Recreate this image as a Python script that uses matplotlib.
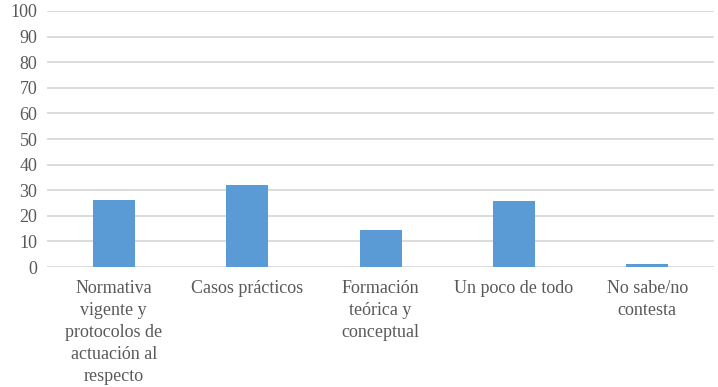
import matplotlib
matplotlib.use("Agg")
import matplotlib.pyplot as plt

categories = ["Normativa\nvigente y\nprotocolos de\nactuación al\nrespecto",
              "Casos prácticos",
              "Formación\nteórica y\nconceptual",
              "Un poco de todo",
              "No sabe/no\ncontesta"]
values = [26.2, 32.0, 14.5, 25.8, 1.2]
yticks = list(range(0, 101, 10))

plt.rcParams['font.family'] = ['Liberation Serif', 'DejaVu Serif']

fig = plt.figure(figsize=(7.18, 3.87), dpi=100)
ax = fig.add_axes([0.0655, 0.31, 0.929, 0.6616])
x = list(range(len(categories)))
ax.bar(x, values, width=0.315, color="#5b9bd5", zorder=3)
ax.set_xlim(-0.5, len(categories) - 0.5)
ax.set_ylim(0, 100)
ax.set_yticks(yticks)
ax.set_xticks(x)
ax.set_xticklabels(categories, fontsize=13, color="#595959", linespacing=1.4, va="top")
ax.tick_params(axis="y", labelsize=13, labelcolor="#595959", length=0, pad=7)
ax.tick_params(axis="x", length=0, pad=9)
ax.grid(axis="y", color="#d9d9d9", linewidth=1.3, zorder=0)
for s in ax.spines.values():
    s.set_visible(False)
fig.savefig("out.png", dpi=100)
